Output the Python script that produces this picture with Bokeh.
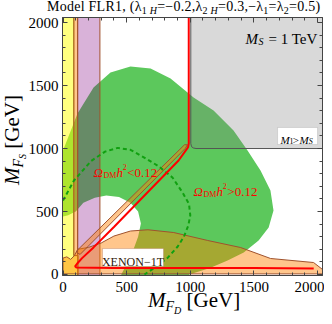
from bokeh.plotting import figure
from bokeh.models import (Range1d, LinearAxis, Label, FixedTicker, CustomJSTickFormatter,
                          BoxAnnotation, Div)
from bokeh.layouts import column
from bokeh.embed import file_html
from bokeh.resources import INLINE

# ---------------- data (GeV) ----------------
ticks_major = [0, 500, 1000, 1500, 2000]
ticks_minor = list(range(0, 2001, 100))

# green region (outer boundary, then the inner "bite")
green_x = [0, 0, 114, 240, 373, 530, 688, 845, 1026, 1183, 1340, 1450, 1552, 1630, 1654, 1616,
           1537, 1420, 1293, 1150, 990, 990, 458, 458, 540, 590, 612, 590, 530, 440, 340, 250, 160, 100, 40, 0]
green_y = [460, 984, 1278, 1484, 1603, 1651, 1635, 1556, 1405, 1302, 1143, 984, 825, 667, 508, 373,
           270, 175, 111, 50, 0, -8, -8, 0, 160, 300, 405, 500, 570, 615, 627, 610, 570, 500, 470, 460]

# dashed green contour
dash_x = [0, 86, 220, 330, 430, 530, 635, 750, 860, 940, 990, 1000, 985, 950, 900, 820, 730, 640]
dash_y = [587, 746, 900, 975, 1005, 990, 930, 860, 770, 650, 560, 470, 390, 300, 220, 130, 60, 0]

# yellow band
yel_x = [-4, 85, 85, 120, 120, -4]
yel_y = [2040, 2040, 150, 150, -8, -8]

# purple band
pur_x = [115, 290, 290, 115]
pur_y = [2040, 2040, -8, -8]

# XENON-1T excluded regions
xen_strip_x = [85, 115, 115, 85]
xen_strip_y = [2040, 2040, 150, 150]
xen_bot_x = [0, 30, 60, 90, 115, 200, 300, 400, 530, 667, 870, 1137, 1396, 1631, 1969, 2039, 2039, 0]
xen_bot_y = [130, 140, 120, 150, 200, 215, 250, 305, 345, 355, 333, 270, 214, 127, 95, 40, 5, 5]
xen_sliv_x = [110, 135, 960, 978, 955, 115]
xen_sliv_y = [170, 160, 1000, 1030, 1030, 195]

# gray M1 > MS region
gray_x = [1004, 2039, 2039, 1004]
gray_y = [1000, 1000, 2040, 2040]
gray_edge_x = [1004, 1004, 1010, 1025, 1045, 2039]
gray_edge_y = [2040, 1040, 1015, 1004, 1000, 1000]

# red Omega h^2 = 0.12 contour
red_x = [988, 988, 983, 965, 908, 600, 400, 240, 150, 110, 95, 105, 400, 1000, 1500, 1970]
red_y = [2040, 1040, 1010, 985, 905, 585, 377, 215, 130, 85, 65, 55, 52, 52, 52, 48]

# ---------------- figure ----------------
W, H = 324, 316
p = figure(width=W, height=H, output_backend="svg", toolbar_location=None,
           x_range=Range1d(-4, 2039), y_range=Range1d(-8, 2040),
           min_border_left=62, min_border_right=2, min_border_top=17, min_border_bottom=41,
           x_axis_type=None, y_axis_type=None)
p.grid.visible = False
p.outline_line_color = "#444444"
p.background_fill_color = "white"
p.border_fill_color = "white"

p.patch(green_x, green_y, fill_color="#5cc85c", line_color=None)
p.patch(yel_x, yel_y, fill_color="#ffff00", fill_alpha=0.5, line_color="#c8c800", line_width=1)
p.patch(pur_x, pur_y, fill_color="#800080", fill_alpha=0.3, line_color="#a0522d", line_width=1)
p.patch(xen_strip_x, xen_strip_y, fill_color="#ff8000", fill_alpha=0.45, line_color="#a0522d", line_width=1)
p.patch(xen_bot_x, xen_bot_y, fill_color="#ff8000", fill_alpha=0.45, line_color="#a0522d", line_width=1)
p.patch(xen_sliv_x, xen_sliv_y, fill_color="#ff8000", fill_alpha=0.45, line_color="#a0522d", line_width=1)
p.patch(gray_x, gray_y, fill_color="#808080", fill_alpha=0.3, line_color=None)
p.line(gray_edge_x, gray_edge_y, line_color="#555555", line_width=1)
p.line(dash_x, dash_y, line_color="#10a010", line_width=2, line_dash="4 3")
p.line(red_x, red_y, line_color="#ff0000", line_width=2)

serif = "Liberation Serif"
def style_axis(ax, labels=True, standoff=4):
    ax.ticker = FixedTicker(ticks=ticks_major, minor_ticks=ticks_minor)
    ax.axis_line_color = "#444444"
    ax.major_tick_line_color = "#444444"
    ax.minor_tick_line_color = "#444444"
    ax.major_tick_in = 5
    ax.major_tick_out = 0
    ax.minor_tick_in = 3
    ax.minor_tick_out = 0
    ax.major_label_text_font = serif
    ax.major_label_text_font_size = "15px"
    ax.major_label_text_color = "black"
    if labels:
        ax.major_label_standoff = standoff
    else:
        ax.formatter = CustomJSTickFormatter(code="return ''")
        ax.major_label_standoff = 0

for side, labs, so in (("below", True, 6), ("left", True, 4), ("above", False, 0), ("right", False, 0)):
    ax = LinearAxis()
    style_axis(ax, labs, so)
    p.add_layout(ax, side)

def lab(x, y, t, size, style="normal", color="black", align="left"):
    L = Label(x=x, y=y, text=t, text_font=serif, text_font_size=size, text_font_style=style,
              text_color=color, text_align=align, text_baseline="alphabetic")
    p.add_layout(L)

# M_S = 1 TeV
lab(1434, 1873, "M", "15px", "italic")
lab(1536, 1849, "S", "10px", "italic")
lab(1615, 1873, "= 1 TeV", "15px")

# M1 > MS box
p.add_layout(BoxAnnotation(left=1686, right=2000, bottom=1032, top=1167, fill_color="white",
                           fill_alpha=1, line_color="#999999", line_width=1))
lab(1709, 1071, "M", "11px", "italic")
lab(1780, 1056, "1", "8px")
lab(1806, 1071, ">", "11px")
lab(1858, 1071, "M", "11px", "italic")
lab(1930, 1056, "S", "8px", "italic")

# Omega labels
red = "#ff0000"
lab(240, 810, "Ω", "13px", "italic", red)
lab(318, 786, "DM", "8px", "normal", red)
lab(420, 810, "h", "13px", "italic", red)
lab(470, 857, "2", "8px", "normal", red)
lab(505, 810, "<0.12", "13px", "normal", red)

lab(1026, 659, "Ω", "13px", "italic", red)
lab(1104, 635, "DM", "8px", "normal", red)
lab(1206, 659, "h", "13px", "italic", red)
lab(1256, 706, "2", "8px", "normal", red)
lab(1291, 659, ">0.12", "13px", "normal", red)

# XENON label
p.add_layout(BoxAnnotation(left=310, right=790, bottom=63, top=206, fill_color="white",
                           fill_alpha=1, line_color="#a0522d", line_width=1))
lab(550, 100, "XENON−1T", "12px", "normal", "#301808", align="center")

# ---------------- texts outside the frame (HTML overlay) ----------------
sub = "font-size:{}px;vertical-align:{}px;line-height:0"
html = (
    '<div style="position:relative;width:324px;height:316px;font-family:\'Liberation Serif\',serif;'
    'color:black;pointer-events:none">'
    '<div style="position:absolute;left:47px;top:0px;font-size:14px;line-height:14px;'
    'white-space:nowrap;letter-spacing:0.25px">'
    'Model FLR1, (λ<sub style="' + sub.format(10, -3) + '">1 <i>H</i></sub>=−0.2,'
    'λ<sub style="' + sub.format(10, -3) + '">2 <i>H</i></sub>=0.3,'
    '−λ<sub style="' + sub.format(10, -3) + '">1</sub>='
    'λ<sub style="' + sub.format(10, -3) + '">2</sub>=0.5)</div>'
    '<div style="position:absolute;left:148px;top:290px;font-size:21px;line-height:21px;white-space:nowrap">'
    '<i>M</i><sub style="' + sub.format(14, -4) + '"><i>F</i><sub style="' + sub.format(10, -3) +
    '"><i>D</i></sub></sub> [GeV]</div>'
    '<div style="position:absolute;left:2px;top:185px;transform:rotate(-90deg);transform-origin:0 0;'
    'font-size:21px;line-height:21px;white-space:nowrap">'
    '<i>M</i><sub style="' + sub.format(14, -4) + '"><i>F</i><sub style="' + sub.format(10, -3) +
    '"><i>S</i></sub></sub> [GeV]</div>'
    '</div>'
)
overlay = Div(text=html, width=W, height=H, margin=(-H, 0, 0, 0))

layout = column(p, overlay, spacing=0)
open("out.html", "w").write(file_html(layout, INLINE))
